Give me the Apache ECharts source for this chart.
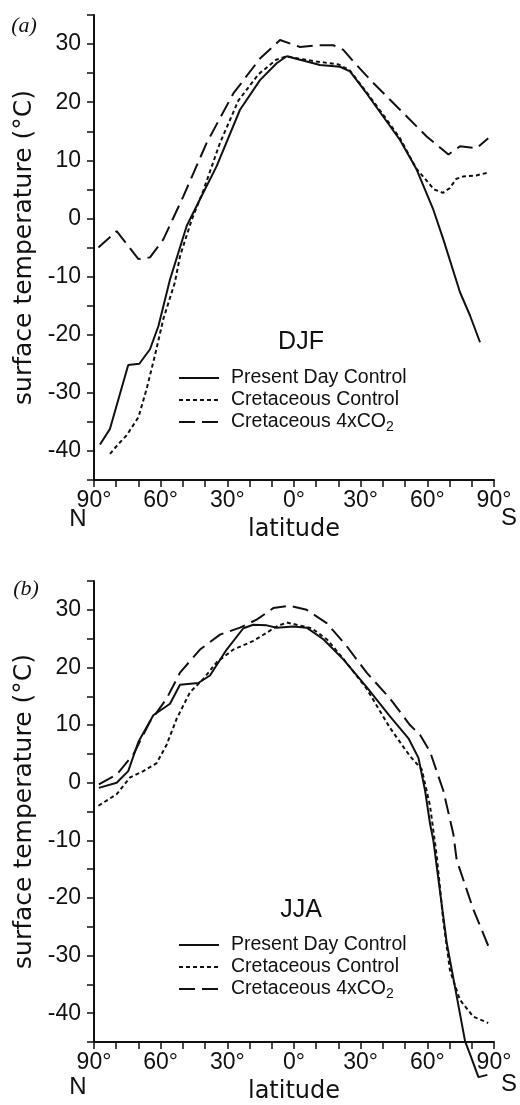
<!DOCTYPE html>
<html>
<head>
<meta charset="UTF-8">
<title>surface temperature DJF / JJA</title>
<script src="https://cdn.jsdelivr.net/npm/echarts@6/dist/echarts.min.js"></script>
<style>
  html, body { margin: 0; padding: 0; background: #fff; }
  #chart { width: 520px; height: 1105px; }
</style>
</head>
<body>
<div id="chart"></div>
<script>
// series names
var names = ['Present Day Control', 'Cretaceous Control', 'Cretaceous 4xCO2'];
// labelled ticks (latitude: north positive)
var latLabels = [90, 60, 30, 0, -30, -60, -90];
var tempLabels = [-40, -30, -20, -10, 0, 10, 20, 30];

// (a) DJF
var djfPresentLat = [87.3, 82.8, 74.6, 69.6, 64.8, 61, 55.8, 48.3, 42.3, 34.8, 24.3, 15.3, 7.8, 3.3, -2.7, -11.7, -20.7, -25.2, -32.7, -40.2, -47.7, -55.2, -62.7, -67.2, -74.7, -79.2, -83.7];
var djfPresentT   = [-38.9, -36.2, -25.2, -25.0, -22.5, -18.5, -10.5, -1.3, 3.3, 9.0, 18.7, 23.8, 26.7, 27.9, 27.3, 26.4, 26.1, 25.3, 21.5, 17.5, 13.5, 8.4, 1.5, -3.6, -12.7, -16.7, -21.3];
var djfCretLat = [82.8, 79, 75.3, 70, 66.3, 62.6, 58.8, 53.6, 51.3, 46, 40.8, 33.3, 25, 16, 8, 3.3, -2, -10, -20, -25, -32.7, -40.2, -47.7, -55, -59, -63, -67, -70, -73, -76, -82, -87.4];
var djfCretT   = [-40.5, -38.8, -37.3, -34.2, -29.3, -23.6, -17.3, -11, -6.5, -0.2, 4.8, 13, 20.3, 24.8, 27.3, 27.9, 27.5, 27.0, 26.5, 25.5, 21.7, 17.8, 13.8, 8.6, 6.8, 5.0, 4.4, 5.2, 6.8, 7.2, 7.4, 7.9];
var djfCo2Lat = [88, 79.8, 70, 64.8, 58.8, 49.8, 39.3, 27.3, 15.3, 6.3, -2.7, -10.2, -17.7, -22.2, -26.7, -35.7, -47.7, -59.7, -69.5, -74.7, -82.2, -87.4];
var djfCo2T   = [-5.0, -2.2, -7.0, -6.7, -3.6, 3.8, 13, 21.5, 27.5, 30.7, 29.5, 29.8, 29.8, 29.0, 27.0, 23.3, 18.7, 14.1, 11.0, 12.4, 12.1, 13.8];

// (b) JJA
var jjaPresentLat = [87.8, 79.8, 74.6, 70, 63.3, 55.8, 51.3, 43.1, 37.8, 30.3, 22.8, 18.3, 12.3, 7.8, 0.3, -5.7, -13.2, -22.2, -32.7, -43.2, -51.5, -56, -59, -61.2, -62.7, -68.7, -77, -79.2, -83, -87];
var jjaPresentT   = [-0.9, 0, 2.0, 7.1, 11.7, 13.7, 17, 17.3, 18.6, 23.1, 26.8, 27.4, 27.3, 26.9, 27.1, 26.9, 24.9, 21.4, 16.6, 11.5, 7.7, 4.3, -1.4, -7.1, -10, -27.7, -44.9, -47.1, -51.1, -50.7];
var jjaCretLat = [88, 79.8, 73.8, 67.8, 61.8, 57.3, 52.8, 46.8, 40.8, 34.8, 27.3, 18.3, 7.8, 3.3, -1.2, -8, -15, -22, -32.7, -43.2, -52.2, -57.5, -61.2, -64.2, -67.2, -70.2, -74.7, -80.7, -87.4];
var jjaCretT   = [-4.0, -2.0, 0.9, 2.0, 3.4, 6.6, 11.1, 15.7, 18, 20.9, 23.1, 24.6, 27.1, 27.8, 27.4, 26.8, 24.8, 21.6, 16.3, 9.5, 4.6, 2.3, -4.0, -12.6, -24, -32.6, -37.7, -40.6, -41.7];
var jjaCo2Lat = [87.8, 79.8, 72.3, 64.8, 57.3, 51.3, 42.3, 33.3, 24.3, 16.8, 9.3, 1.8, -5.7, -14.7, -23.7, -32.7, -43.2, -52.2, -56.7, -61.2, -67.2, -71.7, -73.2, -80.7, -87.4];
var jjaCo2T   = [-0.3, 1.4, 4.9, 10.6, 14.6, 19.1, 23.1, 25.7, 26.9, 28.3, 30.3, 30.7, 30, 27.7, 23.7, 19.1, 14.6, 10, 8.3, 5.4, -1.4, -8.9, -13.4, -22, -28.3];

var ink = '#111';
var sans = 'Liberation Sans';
var lineTypes = ['solid', [4, 3], [16, 7]];

function pts(lat, t) {
    return lat.map(function (v, i) { return [v, t[i]]; });
}

function xAxisCfg(i) {
    return {
        type: 'value', gridIndex: i, min: -90, max: 90, interval: 10, inverse: true,
        axisLine: { onZero: false, lineStyle: { color: ink, width: 2 } },
        axisTick: { length: 7, lineStyle: { color: ink, width: 1.5 } },
        splitLine: { show: false },
        axisLabel: {
            color: ink, fontSize: 23, fontFamily: sans, margin: 9,
            showMinLabel: true, showMaxLabel: true,
            formatter: function (v) { return latLabels.indexOf(v) >= 0 ? Math.abs(v) + '°' : ''; }
        },
        name: 'latitude', nameLocation: 'middle', nameGap: 38,
        nameTextStyle: { color: ink, fontSize: 24, fontFamily: 'DejaVu Sans' }
    };
}

function yAxisCfg(i) {
    return {
        type: 'value', gridIndex: i, min: -45, max: 35, interval: 5,
        axisLine: { show: true, onZero: false, lineStyle: { color: ink, width: 2 } },
        axisTick: { show: true, length: 7, lineStyle: { color: ink, width: 1.5 } },
        splitLine: { show: false },
        axisLabel: {
            color: ink, fontSize: 23, fontFamily: sans, margin: 13,
            showMinLabel: true, showMaxLabel: true,
            formatter: function (v) { return tempLabels.indexOf(v) >= 0 ? String(v) : ''; }
        },
        name: 'surface temperature (°C)', nameLocation: 'middle', nameGap: 50,
        nameTextStyle: { color: ink, fontSize: 25, fontFamily: 'DejaVu Sans' }
    };
}

function lineSeries(name, k, grid, lat, t) {
    return {
        name: name, type: 'line', xAxisIndex: grid, yAxisIndex: grid,
        data: pts(lat, t), symbol: 'none', clip: false,
        lineStyle: { color: ink, width: 2, type: lineTypes[k] }
    };
}

function legendCfg(top) {
    return {
        data: names, orient: 'vertical', left: 173, top: top,
        itemWidth: 40, itemHeight: 14, itemGap: 2,
        itemStyle: { opacity: 0 },
        formatter: function (n) { return n === 'Cretaceous 4xCO2' ? 'Cretaceous 4xCO{sub|2}' : n; },
        textStyle: {
            color: ink, fontSize: 19.5, fontFamily: sans, lineHeight: 20, padding: [0, 0, 0, 7],
            rich: { sub: { fontSize: 14, fontFamily: sans, color: ink, padding: [10, 0, 0, 0] } }
        },
        selectedMode: false
    };
}

function label(text, x, y, size, font, style) {
    return {
        type: 'text', x: x, y: y,
        style: { text: text, fill: ink, fontSize: size, fontFamily: font, fontStyle: style || 'normal', align: 'center', verticalAlign: 'middle' }
    };
}

var chart = echarts.init(document.getElementById('chart'));
chart.setOption({
    animation: false,
    backgroundColor: '#fff',
    grid: [
        { left: 94, top: 15, width: 400, height: 465 },
        { left: 94, top: 581, width: 400, height: 467 }
    ],
    xAxis: [xAxisCfg(0), xAxisCfg(1)],
    yAxis: [yAxisCfg(0), yAxisCfg(1)],
    legend: [legendCfg(363), legendCfg(930)],
    graphic: [
        label('(a)', 24, 26, 22, 'Liberation Serif', 'italic'),
        label('(b)', 26, 589, 22, 'Liberation Serif', 'italic'),
        label('DJF', 301, 342, 25, sans),
        label('JJA', 301, 910, 25, sans),
        label('N', 78, 519, 24, sans),
        label('S', 509, 518, 24, sans),
        label('N', 78, 1087, 24, sans),
        label('S', 509, 1084, 24, sans)
    ],
    series: [
        lineSeries(names[0], 0, 0, djfPresentLat, djfPresentT),
        lineSeries(names[1], 1, 0, djfCretLat, djfCretT),
        lineSeries(names[2], 2, 0, djfCo2Lat, djfCo2T),
        lineSeries(names[0], 0, 1, jjaPresentLat, jjaPresentT),
        lineSeries(names[1], 1, 1, jjaCretLat, jjaCretT),
        lineSeries(names[2], 2, 1, jjaCo2Lat, jjaCo2T)
    ]
});
</script>
</body>
</html>
